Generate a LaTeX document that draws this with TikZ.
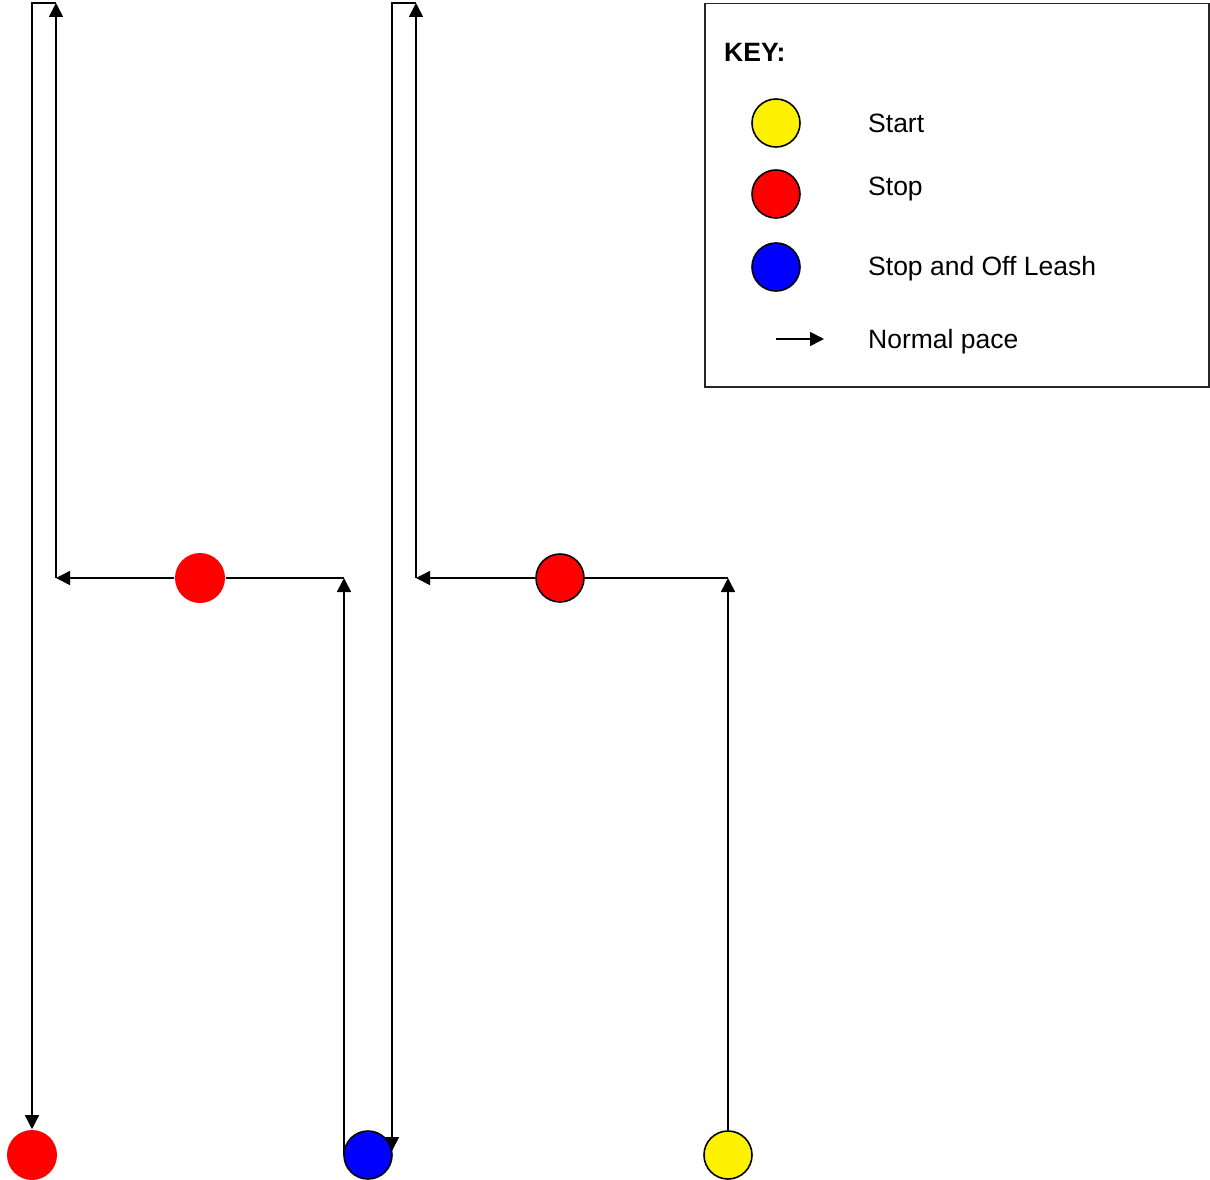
\documentclass[tikz,border=0pt]{standalone}
\usepackage{fontspec}
\setmainfont{Liberation Sans}
\usetikzlibrary{arrows.meta,backgrounds}
\begin{document}
\begin{tikzpicture}[x=1pt,y=-1pt,
  conn/.style={line width=1.6pt},
  arr/.style={conn,-{Triangle[length=14pt,width=14pt]}},
  dot/.style={circle,minimum size=48pt,inner sep=0pt,line width=1.6pt},
  keytext/.style={anchor=base west,inner sep=0pt,font=\fontsize{26.5}{30}\selectfont}]
\useasboundingbox (0,0) rectangle (1210,1180);
% circles
\node[dot,fill=yellow,draw=black] (yel) at (728,1155) {};
\node[dot,fill=blue,draw=black] (blu) at (368,1155) {};
\node[dot,fill=red,minimum size=50pt] (red0) at (32,1155) {};
\node[dot,fill=red,minimum size=50pt] (red1) at (200,578) {};
\node[dot,fill=red,draw=black] (red2) at (560,578) {};
% bend coordinates
\coordinate (c1) at (728,578);
\coordinate (c2) at (416,578);
\coordinate (t2) at (416,3);
\coordinate (t2b) at (392,3);
\coordinate (e2) at (392,1151);
\coordinate (b4) at (344,1155);
\coordinate (c4) at (344,578);
\coordinate (c5) at (56,578);
\coordinate (t5) at (56,3);
\coordinate (t5b) at (32,3);
\begin{pgfonlayer}{background}
\draw[arr] (yel.north) -- (c1);
\draw[conn] (c1) -- (red2);
\draw[arr] (red2) -- (c2);
\draw[arr] (c2) -- (t2);
\draw[arr] (t2) -- (t2b) -- (e2);
\draw[arr] (b4) -- (c4);
\draw[conn] (c4) -- (red1);
\draw[arr] (red1) -- (c5);
\draw[arr] (c5) -- (t5);
\draw[arr] (t5) -- (t5b) -- (red0.north);
\end{pgfonlayer}
% key
\node[draw=black!85,line width=1.5pt,minimum width=504pt,minimum height=383pt,inner sep=0pt,anchor=north west] (keybox) at (704,3) {};
\node[keytext,font=\fontsize{26.5}{30}\selectfont\bfseries] (keyt) at (724,62) {KEY:};
\node[dot,fill=yellow,draw=black] (kyel) at (776,123) {};
\node[dot,fill=red,draw=black] (kred) at (776,194) {};
\node[dot,fill=blue,draw=black] (kblu) at (776,267) {};
\coordinate (ka) at (776,339);
\coordinate (kb) at (824,339);
\draw[arr] (ka) -- (kb);
\node[keytext] (lstart) at (868,133) {Start};
\node[keytext] (lstop) at (868,195) {Stop};
\node[keytext] (loff) at (868,275) {Stop and Off Leash};
\node[keytext] (lnorm) at (868,348) {Normal pace};
\end{tikzpicture}
\end{document}
